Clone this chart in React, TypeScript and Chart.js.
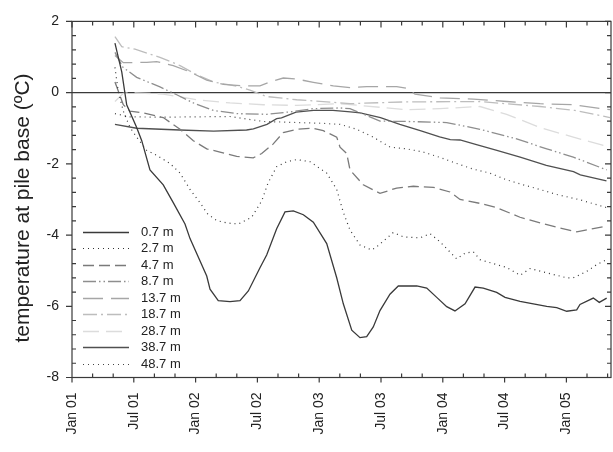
import React, { useEffect, useRef } from 'react';
import { Chart, registerables } from 'chart.js';

Chart.register(...registerables);

// ---- axis / labels ----
const xTickLabels = ['Jan 01', 'Jul 01', 'Jan 02', 'Jul 02', 'Jan 03', 'Jul 03', 'Jan 04', 'Jul 04', 'Jan 05'];
const xMin = 0;
const xMax = 52.33; // months since Jan 2001
const yMin = -8;
const yMax = 2;
const yTitle = 'temperature at pile base (ºC)';
const depthLabels = ['0.7 m', '2.7 m', '4.7 m', '8.7 m', '13.7 m', '18.7 m', '28.7 m', '38.7 m', '48.7 m'];

// ---- series: [month since Jan 2001, temperature °C] ----
const d07: [number, number][] = [
  [4.17, 1.39], [4.83, 0.58], [5.31, -0.34], [6.28, -0.98], [6.77, -1.35], [7.57, -2.17], [8.86, -2.59],
  [9.83, -3.09], [10.97, -3.69], [11.46, -4.1], [13.08, -5.15], [13.4, -5.52], [14.2, -5.84], [15.34, -5.87],
  [16.31, -5.84], [17.12, -5.57], [18.25, -4.92], [18.9, -4.56], [19.87, -3.82], [20.68, -3.35], [21.49, -3.32],
  [22.46, -3.43], [23.43, -3.64], [24.73, -4.24], [25.7, -5.2], [26.34, -5.93], [27.16, -6.67], [27.96, -6.88],
  [28.61, -6.85], [29.25, -6.58], [29.9, -6.12], [30.87, -5.66], [31.68, -5.43], [33.47, -5.43], [34.44, -5.49],
  [35.41, -5.75], [36.38, -6.01], [37.18, -6.13], [38.16, -5.93], [39.13, -5.46], [39.93, -5.49], [41.23, -5.61],
  [42.04, -5.75], [43.5, -5.86], [44.79, -5.93], [46.09, -6.0], [47.06, -6.04], [48.03, -6.14], [49.0, -6.1],
  [49.32, -5.95], [50.61, -5.77], [51.19, -5.89], [51.91, -5.77],
];
const d27: [number, number][] = [
  [4.17, 0.71], [4.47, 0.07], [4.98, -0.52], [5.63, -0.98], [6.28, -1.25], [7.25, -1.62], [8.22, -1.76],
  [9.51, -1.99], [10.49, -2.26], [11.46, -2.72], [12.43, -3.09], [13.2, -3.42], [14.05, -3.59], [15.02, -3.66],
  [16.15, -3.69], [17.45, -3.5], [18.42, -3.04], [19.03, -2.54], [19.87, -2.08], [20.84, -1.94], [21.82, -1.88],
  [23.11, -1.94], [24.73, -2.26], [25.7, -2.72], [26.34, -3.36], [26.99, -3.86], [27.96, -4.28], [29.1, -4.42],
  [29.58, -4.33], [31.19, -3.93], [32.17, -4.05], [33.79, -4.08], [34.76, -3.96], [35.73, -4.19], [37.35, -4.67],
  [38.16, -4.51], [38.96, -4.47], [39.61, -4.69], [41.23, -4.83], [42.2, -4.91], [43.5, -5.13], [44.47, -4.94],
  [46.09, -5.06], [48.03, -5.2], [48.67, -5.2], [49.97, -5.02], [50.94, -4.83], [51.91, -4.69],
];
const d47: [number, number][] = [
  [4.17, 0.3], [4.98, -0.34], [5.63, -0.52], [6.92, -0.57], [8.86, -0.7], [10.49, -1.03], [11.78, -1.35],
  [13.08, -1.58], [14.37, -1.67], [15.99, -1.79], [17.6, -1.83], [18.42, -1.71], [19.54, -1.44], [20.51, -1.12],
  [21.82, -1.03], [23.43, -1.0], [24.4, -1.07], [25.7, -1.25], [26.02, -1.53], [26.67, -1.71], [26.99, -2.17],
  [28.28, -2.59], [29.9, -2.83], [31.52, -2.68], [33.14, -2.63], [35.08, -2.66], [36.7, -2.79], [37.67, -3.0],
  [39.61, -3.11], [41.23, -3.23], [43.5, -3.5], [45.44, -3.66], [47.06, -3.78], [49.0, -3.91], [50.61, -3.82],
  [51.91, -3.75],
];
const d87: [number, number][] = [
  [4.17, 1.13], [4.95, 0.71], [6.28, 0.43], [8.54, 0.16], [10.17, -0.06], [11.78, -0.29], [13.72, -0.5],
  [15.99, -0.59], [18.9, -0.61], [21.49, -0.53], [23.43, -0.45], [26.02, -0.43], [26.99, -0.45], [29.9, -0.8],
  [32.5, -0.81], [36.38, -0.84], [39.61, -1.03], [43.17, -1.3], [46.09, -1.58], [48.67, -1.81], [51.91, -2.17],
];
const d137: [number, number][] = [
  [4.17, 1.04], [4.98, 0.84], [7.25, 0.85], [8.22, 0.87], [9.83, 0.76], [11.46, 0.58], [13.08, 0.35],
  [14.69, 0.23], [16.63, 0.19], [18.25, 0.19], [19.22, 0.3], [20.51, 0.41], [21.82, 0.38], [23.43, 0.29],
  [25.37, 0.19], [26.99, 0.14], [28.61, 0.17], [31.52, 0.17], [32.5, 0.12], [33.3, -0.04], [35.73, -0.15],
  [38.96, -0.18], [42.2, -0.25], [45.44, -0.31], [48.67, -0.34], [52.23, -0.48],
];
const d187: [number, number][] = [
  [4.17, 1.57], [4.83, 1.29], [6.12, 1.22], [8.54, 0.99], [10.49, 0.76], [11.94, 0.53], [13.72, 0.3],
  [15.99, 0.18], [17.28, 0.07], [18.9, -0.11], [21.82, -0.2], [24.73, -0.26], [26.99, -0.31], [32.5, -0.26],
  [39.61, -0.25], [45.44, -0.39], [48.83, -0.5], [52.23, -0.7],
];
const d287: [number, number][] = [
  [4.17, -0.25], [4.98, -0.02], [5.63, 0.0], [8.86, -0.04], [12.11, -0.2], [15.34, -0.29], [18.57, -0.34],
  [21.82, -0.36], [26.02, -0.31], [32.5, -0.48], [35.73, -0.45], [39.61, -0.39], [42.2, -0.61], [45.44, -0.98],
  [48.67, -1.25], [52.23, -1.53],
];
const d387: [number, number][] = [
  [4.17, -0.89], [6.28, -1.0], [10.45, -1.05], [13.75, -1.08], [16.95, -1.05], [17.61, -1.02], [18.93, -0.89],
  [19.87, -0.73], [20.34, -0.71], [21.75, -0.55], [23.45, -0.5], [25.33, -0.5], [27.03, -0.54], [27.97, -0.57],
  [29.95, -0.7], [31.83, -0.89], [33.81, -1.07], [35.69, -1.24], [36.73, -1.32], [37.67, -1.33], [39.27, -1.46],
  [41.25, -1.62], [43.51, -1.81], [46.05, -2.04], [48.69, -2.22], [49.35, -2.31], [51.89, -2.48],
];
const d487: [number, number][] = [
  [4.17, -0.59], [5.63, -0.68], [8.54, -0.69], [12.11, -0.68], [15.34, -0.67], [18.57, -0.81], [21.82, -0.84],
  [24.08, -0.86], [26.02, -0.89], [27.64, -1.03], [29.25, -1.25], [30.87, -1.53], [32.5, -1.58], [34.11, -1.67],
  [35.73, -1.82], [37.35, -1.99], [38.96, -2.15], [40.58, -2.26], [42.2, -2.45], [43.82, -2.59], [45.44, -2.72],
  [47.06, -2.86], [49.32, -3.01], [51.91, -3.23],
];

const seriesData = [d07, d27, d47, d87, d137, d187, d287, d387, d487];
const seriesColors = ['#3a3a3a', '#333333', '#7a7a7a', '#8e8e8e', '#a6a6a6', '#bdbdbd', '#dcdcdc', '#505050', '#444444'];
const seriesDashes: number[][] = [[], [1, 4], [11, 5], [13, 3, 1.5, 3, 1.5, 3], [20, 8], [14, 4, 2, 4], [16, 7], [], [1, 4]];
const seriesWidths = [1.3, 1.2, 1.3, 1.3, 1.3, 1.3, 1.3, 1.3, 1.2];

const FONT = "'Liberation Sans', Arial, Helvetica, sans-serif";

const framePlugin = {
  id: 'frameTicks',
  beforeDatasetsDraw(chart: any) {
    const { ctx, chartArea: a, scales } = chart;
    const y0 = scales.y.getPixelForValue(0);
    ctx.save();
    ctx.strokeStyle = '#3a3a3a';
    ctx.lineWidth = 1.3;
    ctx.beginPath();
    ctx.moveTo(a.left, y0);
    ctx.lineTo(a.right, y0);
    ctx.stroke();
    ctx.restore();
  },
  afterDraw(chart: any) {
    const { ctx, chartArea: a, scales } = chart;
    const xs = scales.x;
    const ys = scales.y;
    ctx.save();
    ctx.strokeStyle = '#3a3a3a';
    ctx.lineWidth = 1.2;
    ctx.strokeRect(a.left, a.top, a.right - a.left, a.bottom - a.top);
    ctx.beginPath();
    for (let m = 0; m <= xMax; m += 2) {
      const px = xs.getPixelForValue(m);
      const major = m % 6 === 0;
      if (major) {
        ctx.moveTo(px, a.bottom);
        ctx.lineTo(px, a.bottom + 5);
        ctx.moveTo(px, a.top);
        ctx.lineTo(px, a.top + 6);
      } else {
        ctx.moveTo(px, a.bottom);
        ctx.lineTo(px, a.bottom - 4);
        ctx.moveTo(px, a.top);
        ctx.lineTo(px, a.top + 4);
      }
    }
    for (let i = 0; i <= 25; i++) {
      const v = yMin + i * 0.4;
      const py = ys.getPixelForValue(v);
      const major = i % 5 === 0;
      if (major) {
        ctx.moveTo(a.left - 6, py);
        ctx.lineTo(a.left, py);
        ctx.moveTo(a.right - 6, py);
        ctx.lineTo(a.right, py);
      } else {
        ctx.moveTo(a.left, py);
        ctx.lineTo(a.left + 4, py);
        ctx.moveTo(a.right - 4, py);
        ctx.lineTo(a.right, py);
      }
    }
    ctx.stroke();

    // y-axis title
    ctx.save();
    ctx.translate(23.5, 208);
    ctx.rotate(-Math.PI / 2);
    ctx.font = `21px ${FONT}`;
    ctx.fillStyle = '#222';
    ctx.textAlign = 'center';
    ctx.textBaseline = 'middle';
    ctx.fillText(yTitle, 0, 0);
    ctx.restore();

    // legend inside plot area, lower left
    const step = 16.5;
    const firstY = a.bottom - 14 - step * (chart.data.datasets.length - 1);
    ctx.font = `13px ${FONT}`;
    ctx.textBaseline = 'middle';
    ctx.textAlign = 'left';
    chart.data.datasets.forEach((ds: any, i: number) => {
      const yy = Math.round(firstY + i * step) + 0.5;
      ctx.save();
      ctx.strokeStyle = ds.borderColor;
      ctx.lineWidth = ds.borderWidth;
      ctx.setLineDash(ds.borderDash || []);
      ctx.beginPath();
      ctx.moveTo(a.left + 11, yy);
      ctx.lineTo(a.left + 57, yy);
      ctx.stroke();
      ctx.restore();
      ctx.fillStyle = '#222';
      ctx.fillText(ds.label, a.left + 69, yy);
    });
    ctx.restore();
  },
};

export default function App() {
  const ref = useRef<HTMLCanvasElement | null>(null);

  useEffect(() => {
    if (!ref.current) return;
    const datasets = seriesData.map((pts, i) => ({
      label: depthLabels[i],
      data: pts.map(([x, y]) => ({ x, y })),
      borderColor: seriesColors[i],
      backgroundColor: seriesColors[i],
      borderDash: seriesDashes[i],
      borderWidth: seriesWidths[i],
      pointRadius: 0,
      tension: 0,
      fill: false,
    }));
    const chart = new Chart(ref.current, {
      type: 'line',
      data: { datasets },
      options: {
        responsive: false,
        animation: false,
        devicePixelRatio: 1,
        layout: { padding: { top: 15, right: 2, left: 0, bottom: 0 } },
        plugins: { legend: { display: false }, tooltip: { enabled: false } },
        scales: {
          x: {
            type: 'linear',
            min: xMin,
            max: xMax,
            border: { display: false },
            grid: { display: false, drawTicks: false },
            afterBuildTicks: (scale: any) => {
              scale.ticks = xTickLabels.map((_, i) => ({ value: i * 6 }));
            },
            afterFit: (scale: any) => {
              scale.height = 74.5;
            },
            ticks: {
              autoSkip: false,
              minRotation: 90,
              maxRotation: 90,
              padding: 15,
              color: '#222',
              font: { family: FONT, size: 14 },
              callback: (_v: any, idx: number) => xTickLabels[idx] ?? '',
            },
          },
          y: {
            min: yMin,
            max: yMax,
            border: { display: false },
            grid: { display: false, drawTicks: false },
            afterFit: (scale: any) => {
              scale.width = 72;
            },
            ticks: {
              stepSize: 2,
              padding: 13,
              color: '#222',
              font: { family: FONT, size: 14 },
            },
            title: { display: false },
          },
        },
      },
      plugins: [framePlugin],
    });
    return () => chart.destroy();
  }, []);

  return (
    <div style={{ position: 'fixed', left: 0, top: 0, width: 613, height: 452, background: '#fff' }}>
      <canvas ref={ref} width={613} height={452} style={{ width: 613, height: 452, display: 'block' }} />
    </div>
  );
}
